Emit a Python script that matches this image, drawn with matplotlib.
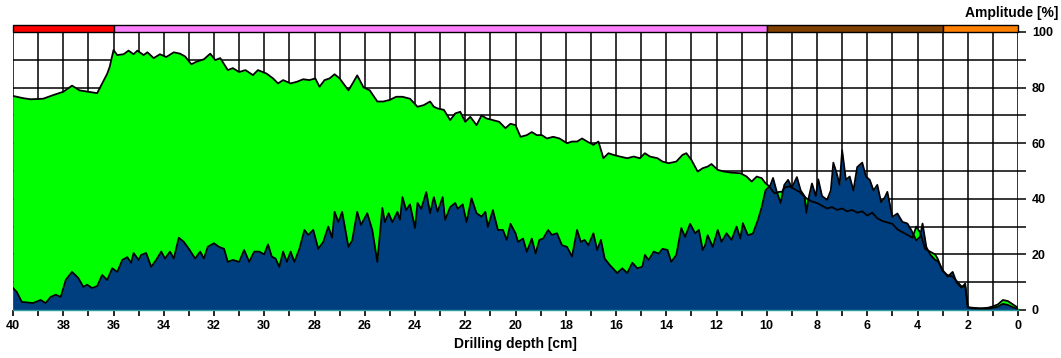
import matplotlib
matplotlib.use("Agg")
import matplotlib.pyplot as plt
from matplotlib.patches import Rectangle
from matplotlib.ticker import MultipleLocator

plt.rcParams['font.family'] = ['Liberation Sans', 'DejaVu Sans']

# Upper amplitude curve (green)
green_depth = [40.0, 39.6, 39.3, 38.8, 38.4, 38.0, 37.65, 37.35, 37.0, 36.65, 36.45, 36.25, 36.15,
               36.0, 35.85, 35.6, 35.4, 35.2, 35.05, 34.8, 34.65, 34.4, 34.15, 33.9, 33.6, 33.35,
               33.15, 32.9, 32.7, 32.4, 32.15, 31.95, 31.75, 31.45, 31.25, 31.0, 30.75, 30.45,
               30.25, 29.9, 29.65, 29.45, 29.25, 28.95, 28.7, 28.45, 28.2, 27.97, 27.8, 27.6, 27.4,
               27.2, 27.0, 26.65, 26.45, 26.3, 26.05, 25.8, 25.5, 25.25, 25.0, 24.75, 24.5, 24.2,
               23.9, 23.65, 23.4, 23.25, 23.1, 22.85, 22.6, 22.4, 22.2, 22.0, 21.8, 21.55, 21.35,
               21.15, 20.9, 20.65, 20.4, 20.2, 20.0, 19.8, 19.55, 19.35, 19.15, 18.95, 18.75, 18.5,
               18.25, 17.95, 17.75, 17.55, 17.35, 17.15, 16.9, 16.7, 16.5, 16.3, 16.1, 15.85, 15.55,
               15.3, 15.05, 14.85, 14.65, 14.35, 14.15, 13.9, 13.6, 13.35, 13.2, 13.0, 12.75, 12.55,
               12.35, 12.2, 11.95, 11.7, 11.4, 11.05, 10.8, 10.6, 10.4, 10.2, 10.05, 9.9, 9.7, 9.5,
               9.4, 9.3, 9.1, 8.9, 8.7, 8.4, 8.2, 8.0, 7.8, 7.6, 7.4, 7.2, 7.0, 6.8, 6.6, 6.4, 6.2,
               6.0, 5.8, 5.6, 5.4, 5.2, 5.0, 4.8, 4.6, 4.4, 4.2, 4.05, 3.9, 3.7, 3.5, 3.3, 3.2, 3.0,
               2.8, 2.6, 2.45, 2.25, 2.1, 2.0, 1.8, 1.5, 1.2, 1.0, 0.8, 0.6, 0.4, 0.2, 0.0]
green_amp = [77.0, 76.2, 75.8, 76.0, 77.3, 78.5, 80.7, 79.0, 78.5, 78.0, 81.5, 85.0, 87.5,
             93.5, 91.7, 92.0, 93.3, 92.0, 93.3, 91.7, 92.7, 90.6, 92.0, 91.0, 92.7, 92.2,
             91.2, 88.4, 89.3, 90.2, 92.2, 89.9, 90.6, 86.3, 87.0, 85.6, 86.3, 84.5,
             86.3, 85.0, 83.3, 81.5, 82.7, 81.5, 82.1, 83.0, 82.7, 83.3, 80.3, 82.7, 83.3,
             84.8, 83.3, 79.0, 82.0, 84.4, 80.1, 79.0, 75.0, 75.0, 75.6, 76.7, 76.7, 76.0,
             73.1, 73.7, 75.0, 73.1, 72.5, 72.0, 68.3, 70.7, 71.3, 67.7, 69.5, 66.5, 70.0,
             68.9, 68.3, 67.7, 65.4, 67.0, 66.5, 62.3, 62.9, 64.0, 62.9, 62.9, 61.7, 62.3,
             61.7, 60.0, 60.6, 60.6, 61.7, 60.6, 59.4, 60.6, 54.6, 56.4, 55.8, 55.2, 54.6,
             55.2, 54.6, 56.4, 55.2, 54.6, 53.4, 52.8, 53.4, 55.8, 56.4, 54.0, 49.8, 51.0,
             51.6, 52.5, 50.4, 49.8, 49.4, 49.2, 48.0, 46.2, 48.0, 47.4, 45.6, 44.5, 42.0, 42.5,
             42.5, 44.0, 44.5, 43.5, 42.5, 40.0, 39.0, 38.5, 37.5, 36.5, 37.0, 36.0, 36.5, 35.5, 36.0, 35.0, 35.5,
             34.0, 35.0, 33.0, 32.0, 31.5, 31.0, 29.0, 28.0, 27.0, 26.0, 30.0, 28.0, 22.0, 21.0, 20.0, 18.5, 14.0,
             12.5, 12.0, 10.5, 8.5, 8.5, 1.0, 0.8, 0.6, 0.8, 1.3, 2.0, 3.6, 3.2, 2.0, 0.8]

# Lower amplitude curve (navy)
navy_depth = [40.0, 39.85, 39.65, 39.2, 38.9, 38.7, 38.5, 38.3, 38.1, 37.9, 37.65, 37.4, 37.2,
              37.05, 36.85, 36.65, 36.45, 36.25, 36.05, 35.85, 35.65, 35.45, 35.3, 35.2, 35.0,
              34.9, 34.7, 34.5, 34.3, 34.1, 33.95, 33.75, 33.6, 33.4, 33.2, 33.0, 32.75, 32.55,
              32.4, 32.25, 32.0, 31.8, 31.6, 31.45, 31.25, 31.0, 30.8, 30.6, 30.4, 30.2, 30.0,
              29.85, 29.7, 29.55, 29.4, 29.25, 29.1, 28.95, 28.8, 28.6, 28.4, 28.25, 28.05, 27.85,
              27.65, 27.45, 27.3, 27.2, 27.05, 26.9, 26.65, 26.5, 26.3, 26.15, 25.9, 25.7, 25.5,
              25.3, 25.2, 25.05, 24.9, 24.7, 24.6, 24.5, 24.35, 24.2, 24.0, 23.9, 23.75, 23.55,
              23.4, 23.25, 23.1, 22.9, 22.8, 22.6, 22.4, 22.3, 22.1, 21.95, 21.75, 21.55, 21.35,
              21.2, 21.1, 20.9, 20.7, 20.5, 20.35, 20.2, 20.0, 19.9, 19.7, 19.55, 19.35, 19.2,
              19.05, 18.9, 18.7, 18.55, 18.35, 18.15, 17.95, 17.75, 17.55, 17.4, 17.25, 17.1,
              16.9, 16.75, 16.6, 16.45, 16.25, 15.95, 15.75, 15.55, 15.35, 15.15, 14.95, 14.85,
              14.7, 14.5, 14.3, 14.15, 13.95, 13.8, 13.6, 13.4, 13.25, 13.05, 12.85, 12.7, 12.55,
              12.45, 12.35, 12.15, 11.95, 11.8, 11.6, 11.4, 11.2, 11.05, 10.95, 10.75, 10.55,
              10.35, 10.2, 10.05, 9.95, 9.85, 9.75, 9.6, 9.45, 9.3, 9.15, 9.0, 8.8, 8.65, 8.5,
              8.42, 8.35, 8.2, 8.05, 7.95, 7.8, 7.6, 7.45, 7.35, 7.2, 7.1, 7.0, 6.85, 6.7, 6.55,
              6.4, 6.2, 6.05, 5.9, 5.75, 5.6, 5.45, 5.3, 5.2, 5.0, 4.8, 4.6, 4.4, 4.25, 4.05,
              3.9, 3.8, 3.65, 3.5, 3.3, 3.2, 3.0, 2.8, 2.6, 2.45, 2.25, 2.1, 2.0, 1.8, 1.5, 1.2,
              1.0, 0.8, 0.6, 0.4, 0.2, 0.0]
navy_amp = [7.9, 6.5, 2.9, 2.5, 3.6, 2.5, 4.7, 5.5, 4.7, 10.8, 13.7, 11.5, 8.3,
            9.1, 7.9, 8.6, 12.6, 10.8, 15.0, 13.7, 18.0, 19.0, 17.0, 20.5, 18.0,
            19.8, 20.5, 15.5, 18.0, 21.0, 18.5, 21.0, 18.5, 26.0, 24.5, 22.0, 18.5, 21.0,
            18.5, 22.7, 24.0, 22.7, 22.0, 17.3, 18.0, 17.3, 21.6, 17.3, 21.0, 21.0, 20.0,
            23.6, 19.2, 18.5, 15.5, 21.0, 17.3, 21.0, 17.3, 22.0, 28.8, 27.0, 28.8, 22.0,
            24.5, 30.0, 26.0, 35.3, 31.6, 35.3, 22.7, 25.0, 35.3, 30.6, 34.8, 28.8, 17.3,
            36.7, 31.6, 34.8, 31.6, 35.3, 32.4, 40.6, 35.9, 38.0, 29.5, 38.5, 36.4, 42.4,
            34.8, 40.6, 35.3, 40.6, 32.4, 37.0, 38.5, 36.4, 38.0, 31.6, 40.2, 34.8, 33.6,
            35.3, 29.9, 35.9, 28.8, 28.8, 25.2, 31.0, 27.6, 24.5, 25.7, 20.9, 25.7, 20.3,
            25.2, 25.7, 28.8, 27.0, 27.6, 23.3, 22.7, 19.2, 28.8, 24.5, 25.2, 23.3,
            27.6, 21.6, 25.2, 18.5, 16.2, 13.3, 15.0, 13.3, 17.0, 15.0, 15.6, 19.8,
            18.0, 21.0, 20.3, 22.0, 21.6, 17.3, 19.8, 29.5, 26.3, 31.0, 27.6, 28.8, 21.6,
            23.3, 26.9, 22.7, 28.8, 24.5, 27.6, 25.2, 30.0, 25.7, 31.2, 26.9, 27.5,
            32.4, 37.0, 43.0, 44.0, 45.0, 47.5, 42.5, 38.5, 45.0, 46.8, 44.0, 47.8, 43.0, 41.0,
            35.0, 39.6, 45.5, 41.0, 47.0, 41.0, 39.6, 43.0, 53.0, 48.7, 45.0, 57.5, 46.8, 48.0, 43.0,
            51.4, 53.0, 48.0, 46.8, 43.0, 45.0, 38.8, 40.5, 42.5, 33.5, 34.7, 31.7, 31.1, 28.8, 25.0,
            26.3, 31.1, 22.7, 20.0, 18.0, 17.7, 14.4, 12.0, 13.7, 10.0, 8.0, 9.5, 1.0, 0.6, 0.5, 0.4,
            0.8, 1.2, 2.2, 1.8, 1.0, 0.3]

# Zone bar along the top edge: (start depth, end depth, colour)
zone_start = [40.0, 36.0, 10.0, 3.0]
zone_end = [36.0, 10.0, 3.0, 0.0]
zone_color = ['#FF0000', '#FF80FF', '#804000', '#FF8000']

fig = plt.figure(figsize=(10.61, 3.58), dpi=100)
ax = fig.add_axes([13 / 1061, 48 / 358, 1005 / 1061, 278 / 358])

ax.fill_between(green_depth, 0, green_amp, color='#00FF00', lw=0, zorder=2)
ax.fill_between(navy_depth, 0, navy_amp, color='#003F7F', lw=0, zorder=3)
ax.plot(green_depth, green_amp, color='black', lw=1.3, zorder=4)
ax.plot(navy_depth, navy_amp, color='black', lw=1.3, zorder=4)

ax.set_xlim(40, 0)
ax.set_ylim(0, 100)

# grid
for d in range(0, 41):
    ax.axvline(d, color='black', lw=1.1, zorder=1)
for v in range(10, 101, 10):
    ax.axhline(v, color='black', lw=1.1, zorder=1)

for s0, s1, c in zip(zone_start, zone_end, zone_color):
    ax.add_patch(Rectangle((s0, 100), s1 - s0, 2.6, facecolor=c, edgecolor='black',
                           lw=1.0, clip_on=False, zorder=5))

for side in ['top', 'left', 'right']:
    ax.spines[side].set_visible(False)
ax.spines['bottom'].set_color('#2E9C9C')
ax.spines['bottom'].set_linewidth(1.0)
ax.spines['bottom'].set_zorder(6)

ax.xaxis.set_major_locator(MultipleLocator(2))
ax.xaxis.set_minor_locator(MultipleLocator(1))
ax.tick_params(axis='x', which='major', direction='out', length=4, width=1.2,
               labelsize=9, pad=3, colors='black')
ax.tick_params(axis='x', which='minor', direction='out', length=4, width=1.2)

ax.yaxis.tick_right()
ax.yaxis.set_major_locator(MultipleLocator(20))
ax.yaxis.set_minor_locator(MultipleLocator(10))
ax.tick_params(axis='y', which='major', direction='out', length=6, width=1.1,
               labelsize=9, pad=4)
ax.tick_params(axis='y', which='minor', direction='out', length=6, width=1.1)

for lbl in ax.get_xticklabels() + ax.get_yticklabels():
    lbl.set_fontweight('bold')

ax.set_xlabel('Drilling depth [cm]', fontsize=10, fontweight='bold', labelpad=4)
fig.text(1058 / 1061, 1 - 13 / 358, 'Amplitude [%]', ha='right', va='center',
         fontsize=10, fontweight='bold')

fig.savefig('out.png', dpi=100)
